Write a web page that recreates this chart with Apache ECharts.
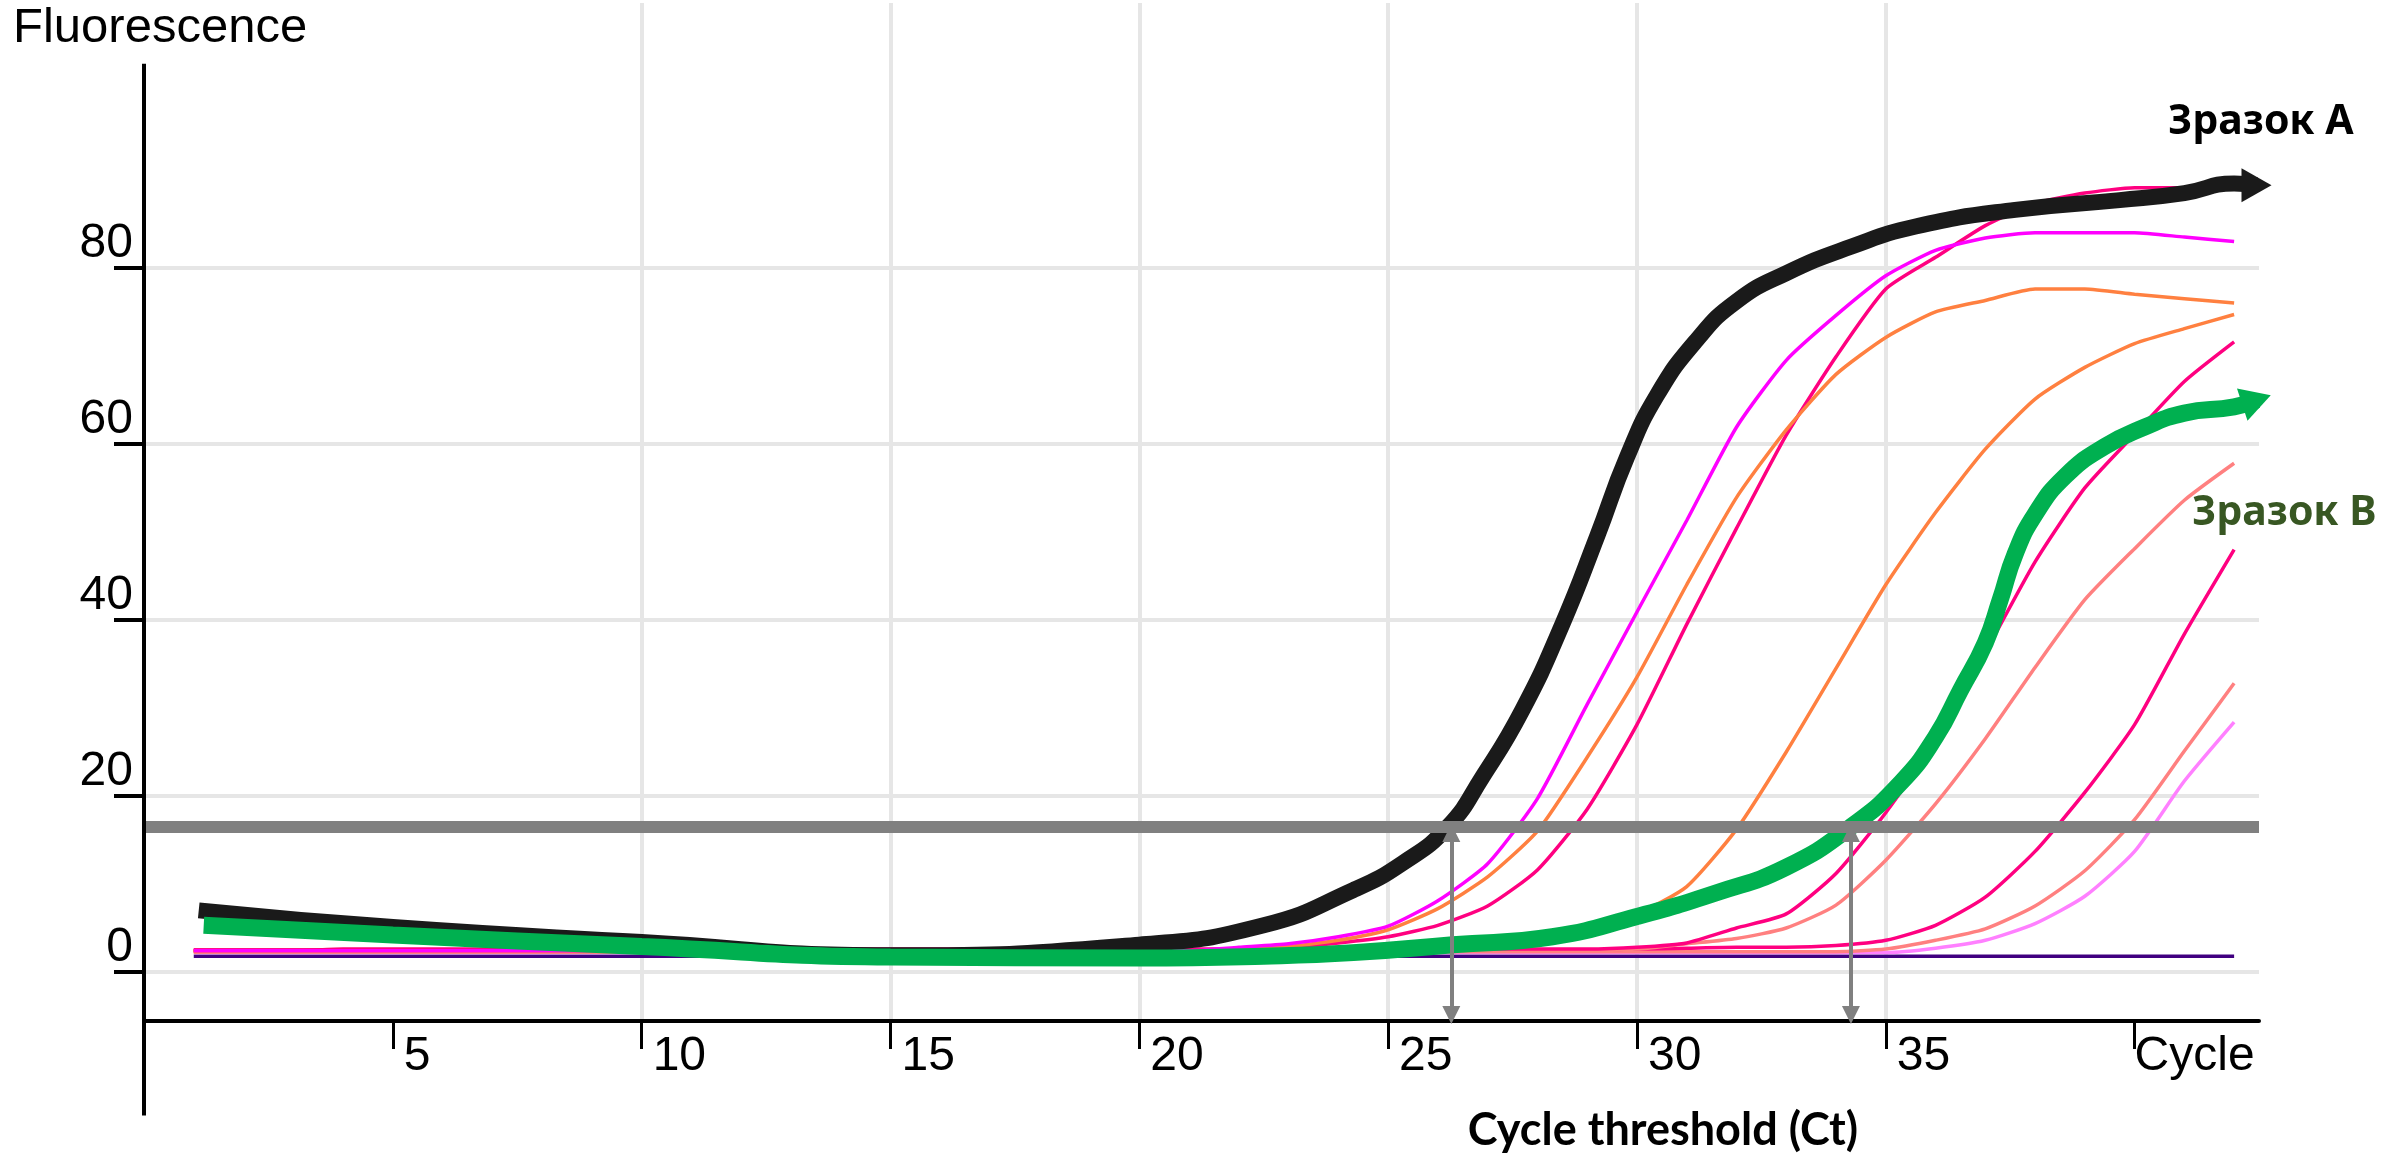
<!DOCTYPE html>
<html>
<head>
<meta charset="utf-8">
<script src="https://cdn.jsdelivr.net/npm/echarts@6/dist/echarts.min.js"></script>
<style>html,body{margin:0;padding:0;background:#fff}#c{width:2389px;height:1153px}</style>
</head>
<body>
<div id="c"></div>
<script>
// ---- data ----
const cycles = [1,2,3,4,5,6,7,8,9,10,11,12,13,14,15,16,17,18,19,20,21,22,23,24,25,26,27,28,29,30,31,32,33,34,35,36,37,38,39,40,41,42];
const magenta1 = [2.4,2.4,2.4,2.4,2.4,2.4,2.4,2.4,2.4,2.4,2.4,2.4,2.4,2.4,2.4,2.4,2.4,2.4,2.4,2.4,2.4,2.8,3.2,4.0,5.2,8.1,12.3,19.7,30.4,40.9,51.3,61.9,69.5,74.6,79.1,82.0,83.4,84.0,84.0,84.0,83.5,83.0];
const orange1 = [2.3,2.3,2.3,2.3,2.3,2.3,2.3,2.3,2.3,2.3,2.3,2.3,2.3,2.3,2.3,2.3,2.3,2.3,2.3,2.3,2.3,2.5,2.9,3.6,4.8,7.2,10.8,16.0,24.4,33.5,44.0,53.9,61.6,67.9,72.1,75.0,76.3,77.6,77.6,77.0,76.5,76.0];
const deepPink1 = [2.5,2.5,2.5,2.5,2.5,2.5,2.5,2.5,2.5,2.5,2.5,2.5,2.5,2.5,2.5,2.5,2.5,2.5,2.5,2.5,2.5,2.6,2.8,3.3,4.0,5.3,7.5,11.6,18.5,28.1,39.5,50.4,61.0,69.9,77.6,81.2,84.8,87.3,88.5,89.1,89.1,89.2];
const orange2 = [2.4,2.4,2.4,2.4,2.4,2.4,2.4,2.4,2.4,2.4,2.4,2.4,2.4,2.4,2.4,2.4,2.4,2.4,2.4,2.4,2.4,2.4,2.6,2.8,3.1,3.4,3.8,4.4,5.2,6.6,9.7,16.2,25.0,34.5,44.0,52.2,59.4,65.1,68.7,71.4,73.1,74.7];
const deepPink2 = [2.4,2.4,2.4,2.6,2.6,2.6,2.6,2.6,2.6,2.6,2.6,2.6,2.6,2.6,2.6,2.6,2.6,2.6,2.6,2.6,2.6,2.6,2.6,2.6,2.6,2.6,2.6,2.6,2.6,2.8,3.3,5.0,6.6,11.2,18.1,26.2,36.3,46.6,55.0,61.1,67.1,71.6];
const salmon1 = [2.4,2.4,2.4,2.4,2.4,2.4,2.4,2.4,2.4,2.4,2.4,2.4,2.4,2.4,2.4,2.4,2.4,2.4,2.4,2.4,2.4,2.4,2.4,2.4,2.4,2.4,2.4,2.4,2.4,2.6,3.2,3.8,5.0,7.6,12.7,19.1,26.5,34.6,42.3,48.1,53.6,57.8];
const deepPink3 = [2.5,2.5,2.5,2.5,2.5,2.5,2.5,2.5,2.5,2.5,2.5,2.5,2.5,2.5,2.5,2.5,2.5,2.5,2.5,2.5,2.5,2.5,2.5,2.5,2.5,2.5,2.5,2.5,2.5,2.6,2.7,2.8,2.8,3.0,3.6,5.3,8.5,13.7,20.4,28.1,38.4,48.0];
const salmon2 = [2.3,2.3,2.3,2.3,2.3,2.3,2.3,2.3,2.3,2.3,2.3,2.3,2.3,2.3,2.3,2.3,2.3,2.3,2.3,2.3,2.3,2.3,2.3,2.3,2.3,2.3,2.3,2.3,2.3,2.3,2.3,2.3,2.3,2.3,2.6,3.6,4.9,7.5,11.5,17.3,25.1,32.8];
const lightPink = [2.2,2.2,2.2,2.2,2.2,2.2,2.2,2.2,2.2,2.2,2.2,2.2,2.2,2.2,2.2,2.2,2.2,2.2,2.2,2.2,2.2,2.2,2.2,2.2,2.2,2.2,2.2,2.2,2.2,2.2,2.2,2.2,2.2,2.2,2.2,2.7,3.6,5.5,8.6,13.7,21.7,28.4];
const purple = [1.8,1.8,1.8,1.8,1.8,1.8,1.8,1.8,1.8,1.8,1.8,1.8,1.8,1.8,1.8,1.8,1.8,1.8,1.8,1.8,1.8,1.8,1.8,1.8,1.8,1.8,1.8,1.8,1.8,1.8,1.8,1.8,1.8,1.8,1.8,1.8,1.8,1.8,1.8,1.8,1.8,1.8];

// hand-drawn sample curves
const sampleACycles = [1.1,5,10,15,20,22.5,24.3,25.3,26.2,26.9,27.7,28.5,29.2,29.8,30.4,31.2,32.0,33.0,34.3,35.6,37.6,39.7,41.0,42.0];
const sampleAValues = [7.0,5.1,3.4,1.9,3.1,5.3,9.3,12.4,16.5,22.2,29.8,39.5,49.5,58.5,65.5,71.8,76.2,79.4,82.4,84.7,86.6,87.7,88.5,89.6];
const sampleAArrow = [42.45, 89.4];
const sampleBCycles = [1.2,5,10,15,20,22.5,24.3,26.3,28.3,30.0,31.6,33.0,34.3,35.3,36.0,36.5,37.0,37.3,37.6,38.0,38.6,39.4,40.2,41.0,42.0];
const sampleBValues = [5.3,4.2,2.9,1.7,1.6,1.8,2.2,3.1,4.0,6.3,9.0,11.9,16.5,21.5,26.7,32.0,37.4,42.3,47.5,52.0,56.3,59.7,61.9,63.5,64.2];
const sampleBArrow = [42.45, 65.0];

const threshold = 16.5;
const ctValues = [26.27, 34.3];
const ctArrowTop = 15.8, ctArrowBottom = -4.9;

const xTicks = [5,10,15,20,25,30,35,40];
const xTickLabels = ['5','10','15','20','25','30','35','Cycle'];
const yTicks = [0,20,40,60,80];
const yTickLabels = ['0','20','40','60','80'];

const labelA = 'Зразок А';
const labelB = 'Зразок В';
const xTitle = 'Cycle threshold (Ct)';
const yTitle = 'Fluorescence';

// ---- chart ----
const chart = echarts.init(document.getElementById('c'));
const pairs = (xs, ys) => xs.map((x, i) => [x, ys[i]]);
const thin = (name, vals, color) => ({
  type: 'line', name, data: pairs(cycles, vals), symbol: 'none', smooth: 0.2,
  lineStyle: { color, width: 3.5 }, itemStyle: { color }, z: 2, silent: true
});
const thick = (name, xs, ys, arrow, color, width, rot, z) => ({
  type: 'line', name, z, silent: true, smooth: 0.5,
  symbol: 'none', showSymbol: true,
  data: pairs(xs, ys).concat([{ value: arrow, symbol: 'triangle', symbolSize: [34, 30], symbolRotate: rot }]),
  lineStyle: { color, width }, itemStyle: { color }
});
const axisFont = 'Liberation Sans';

const option = {
  animation: false,
  title: { text: yTitle, left: 13, top: 4, padding: 0,
    textStyle: { fontFamily: axisFont, fontSize: 49, fontWeight: 'normal', color: '#000' } },
  grid: { left: 144, right: 130, top: 3, bottom: 132 },
  xAxis: {
    type: 'value', min: 0, max: 42.5, interval: 5,
    axisLine: { show: true, onZero: false, lineStyle: { color: '#000', width: 4 } },
    axisTick: { show: true, customValues: xTicks, length: 28, lineStyle: { color: '#000', width: 3 } },
    axisLabel: {
      customValues: xTicks, margin: 12, align: 'left',
      formatter: v => { const i = xTicks.indexOf(v); const t = i >= 0 ? xTickLabels[i] : ''; return v === 40 ? '{c|' + t + '}' : '{n|' + t + '}'; },
      rich: {
        n: { fontFamily: axisFont, fontSize: 48, color: '#000', padding: [0, 0, 0, 11] },
        c: { fontFamily: axisFont, fontSize: 48, color: '#000' }
      }
    },
    splitLine: { show: true, showMinLine: false, showMaxLine: false, lineStyle: { color: '#e6e6e6', width: 4 } }
  },
  yAxis: {
    type: 'value', min: -5.57, max: 110.1,
    axisLine: { show: false },
    axisTick: { show: true, customValues: yTicks, length: 30, lineStyle: { color: '#000', width: 4 } },
    axisLabel: {
      customValues: yTicks, margin: 11, verticalAlign: 'bottom',
      formatter: v => { const i = yTicks.indexOf(v); return i >= 0 ? yTickLabels[i] : ''; },
      fontFamily: axisFont, fontSize: 48, color: '#000'
    },
    splitLine: { show: false }
  },
  series: [
    { type: 'line', name: 'grid', data: [], silent: true, z: 1,
      markLine: { silent: true, symbol: 'none', z: 1, label: { show: false }, animation: false,
        lineStyle: { color: '#e6e6e6', width: 4, type: 'solid' },
        data: yTicks.map(v => ({ yAxis: v })) } },
    thin('purple', purple, '#400080'),
    thin('lightPink', lightPink, '#ff80ff'),
    thin('salmon2', salmon2, '#ff8080'),
    thin('deepPink3', deepPink3, '#ff0080'),
    thin('salmon1', salmon1, '#ff8080'),
    thin('deepPink2', deepPink2, '#ff0080'),
    thin('orange2', orange2, '#ff8040'),
    thin('deepPink1', deepPink1, '#ff0080'),
    thin('orange1', orange1, '#ff8040'),
    thin('magenta1', magenta1, '#ff00ff'),
    thick('sampleA', sampleACycles, sampleAValues, sampleAArrow, '#1a1a1a', 16, -90, 4),
    thick('sampleB', sampleBCycles, sampleBValues, sampleBArrow, '#00b050', 17, -72, 5),
    { type: 'line', name: 'threshold', data: [], silent: true, z: 10,
      markLine: { silent: true, z: 10, label: { show: false }, animation: false,
        data: [
          { yAxis: threshold, symbol: 'none', lineStyle: { color: '#808080', width: 12, type: 'solid' } },
          ...ctValues.map(c => [
            { coord: [c, ctArrowTop], symbol: 'triangle', symbolSize: 18, lineStyle: { color: '#808080', width: 4, type: 'solid' } },
            { coord: [c, ctArrowBottom], symbol: 'triangle', symbolSize: 18 }
          ])
        ] } }
  ]
};
chart.setOption(option);

const yAxisCycle = 0, yAxisTop = 103.2, yAxisBottom = -16.3;
const p0 = chart.convertToPixel({ gridIndex: 0 }, [yAxisCycle, yAxisTop]);
const p1 = chart.convertToPixel({ gridIndex: 0 }, [yAxisCycle, yAxisBottom]);
chart.setOption({
  graphic: [
    { type: 'line', z: 50, shape: { x1: p0[0], y1: p0[1], x2: p1[0], y2: p1[1] }, style: { stroke: '#000', lineWidth: 4 } },
    { type: 'text', z: 50, x: 2168, y: 122, style: { text: labelA, font: 'bold 41px "Noto Sans"', fill: '#000', align: 'left', verticalAlign: 'middle' } },
    { type: 'text', z: 50, x: 2192, y: 513, style: { text: labelB, font: 'bold 41px "Noto Sans"', fill: '#385723', align: 'left', verticalAlign: 'middle' } },
    { type: 'text', z: 50, x: 1663, y: 1130, style: { text: xTitle, font: 'bold 45px Lato, "Noto Sans"', fill: '#000', align: 'center', verticalAlign: 'middle' } }
  ]
});
</script>
</body>
</html>
